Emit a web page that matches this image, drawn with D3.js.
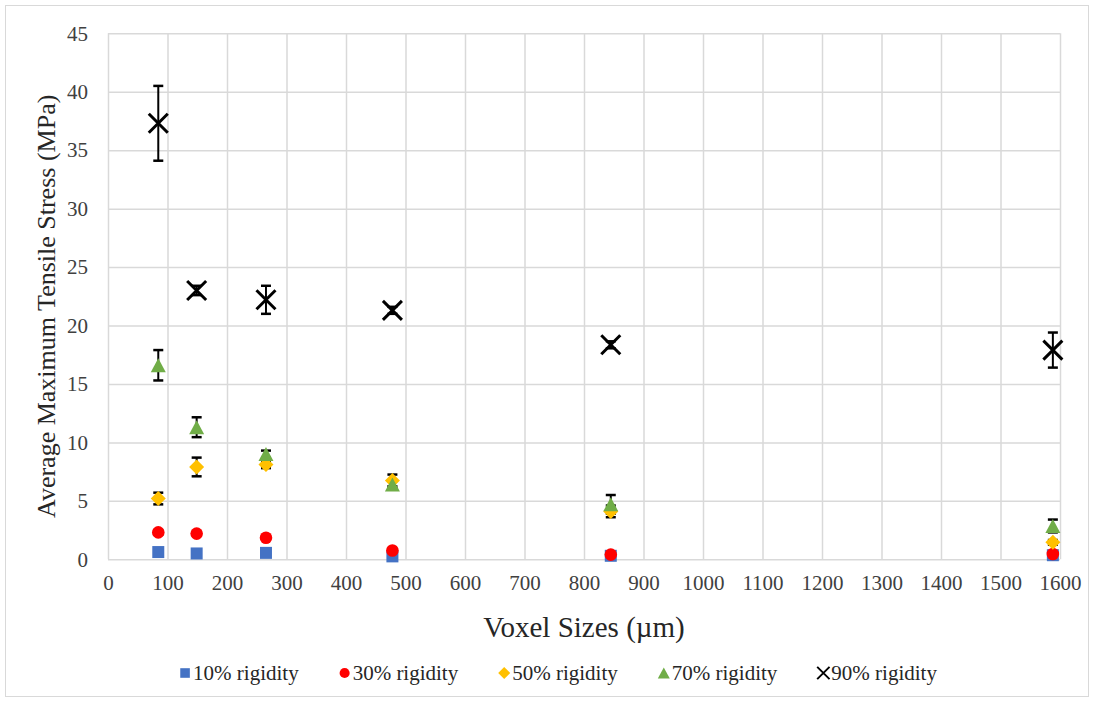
<!DOCTYPE html>
<html>
<head>
<meta charset="utf-8">
<script src="https://cdn.jsdelivr.net/npm/d3@7"></script>
<style>
  body { margin: 0; background: #fff; }
  svg { display: block; }
  svg text { font-family: "Liberation Serif", "Times New Roman", serif !important; }
</style>
</head>
<body>
<svg id="chart" width="1094" height="702"></svg>
<script>
/*** DATA ***/
const voxelSizes = [84.5, 149, 265.5, 478, 845, 1588];
const seriesNames = ['10% rigidity', '30% rigidity', '50% rigidity', '70% rigidity', '90% rigidity'];
const rigidity10 = [0.62, 0.5, 0.55, 0.25, 0.3, 0.35];
const rigidity30 = [2.3, 2.2, 1.85, 0.75, 0.4, 0.45];
const rigidity50 = [5.2, 7.9, 8.1, 6.75, 4.1, 1.45];
const rigidity70 = [16.6, 11.3, 9.0, 6.4, 4.7, 2.85];
const rigidity90 = [37.3, 23.0, 22.2, 21.3, 18.35, 17.9];
const err10 = [0.1, 0.1, 0.1, 0.05, 0.05, 0.05];
const err30 = [0.2, 0.15, 0.15, 0.1, 0.1, 0.1];
const err50 = [0.5, 0.8, 0.3, 0.5, 0.5, 0.2];
const err70 = [1.3, 0.85, 0.3, 0.3, 0.8, 0.55];
const err90 = [3.2, 0.4, 1.2, 0.3, 0.3, 1.5];
const xTicks = d3.range(0, 1601, 100);
const yTicks = d3.range(0, 46, 5);

/*** STYLE ***/
const FONT = '"Liberation Serif", "Times New Roman", serif';
const colors = ['#4472C4', '#FF0000', '#FFC000', '#70AD47', '#000000'];
const shapes = ['square', 'circle', 'diamond', 'triangle', 'cross'];

const series = seriesNames.map((name, i) => ({
  name, color: colors[i], shape: shapes[i],
  values: [rigidity10, rigidity30, rigidity50, rigidity70, rigidity90][i],
  errors: [err10, err30, err50, err70, err90][i]
}));

/*** DIMENSIONS ***/
const W = 1094, H = 702;
const plot = {left: 108, right: 1060, top: 33.3, bottom: 559.3};

const svg = d3.select('#chart');

svg.append('rect')
    .attr('x', 5.5).attr('y', 5.5)
    .attr('width', W - 11).attr('height', H - 11)
    .attr('fill', '#fff').attr('stroke', '#d9d9d9').attr('stroke-width', 1);

const x = d3.scaleLinear().domain([0, 1600]).range([plot.left, plot.right]);
const y = d3.scaleLinear().domain([0, 45]).range([plot.bottom, plot.top]);

// GRID + AXES
const gy = svg.append('g')
    .attr('transform', `translate(${plot.left},0)`)
    .call(d3.axisLeft(y).tickValues(yTicks).tickSize(-(plot.right - plot.left)).tickPadding(20).tickFormat(d3.format('d')));
const gx = svg.append('g')
    .attr('transform', `translate(0,${plot.bottom})`)
    .call(d3.axisBottom(x).tickValues(xTicks).tickSize(-(plot.bottom - plot.top)).tickPadding(12).tickFormat(d3.format('d')));

[gx, gy].forEach(g => {
  g.attr('font-family', FONT).attr('font-size', 21);
  g.select('.domain').remove();
  g.selectAll('line').attr('stroke', '#d9d9d9').attr('stroke-width', 1.5);
  g.selectAll('text').attr('fill', '#404040');
});
gx.selectAll('text').attr('dy', '0.9em');

// axis titles
svg.append('text')
    .attr('x', (plot.left + plot.right) / 2).attr('y', 637)
    .attr('text-anchor', 'middle')
    .attr('font-family', FONT).attr('font-size', 29).attr('fill', '#262626')
    .text('Voxel Sizes (µm)');

svg.append('text')
    .attr('transform', `translate(55,${(plot.top + plot.bottom) / 2 + 10}) rotate(-90)`)
    .attr('text-anchor', 'middle')
    .attr('font-family', FONT).attr('font-size', 26).attr('fill', '#262626')
    .text('Average Maximum Tensile Stress (MPa)');

/*** MARKERS ***/
function markerPath(shape) {
  const p = d3.path();
  if (shape === 'square') { p.rect(-6, -6, 12, 12); }
  else if (shape === 'circle') { p.arc(0, 0, 6.3, 0, 2 * Math.PI); }
  else if (shape === 'diamond') { p.moveTo(0, -7.5); p.lineTo(7.5, 0); p.lineTo(0, 7.5); p.lineTo(-7.5, 0); p.closePath(); }
  else if (shape === 'triangle') { p.moveTo(0, -7); p.lineTo(7.5, 7); p.lineTo(-7.5, 7); p.closePath(); }
  else { p.moveTo(-9.5, -9.5); p.lineTo(9.5, 9.5); p.moveTo(9.5, -9.5); p.lineTo(-9.5, 9.5); }
  return p.toString();
}

function drawMarker(sel, s) {
  sel.append('path')
      .attr('d', markerPath(s.shape))
      .attr('fill', s.shape === 'cross' ? 'none' : s.color)
      .attr('stroke', s.shape === 'cross' ? s.color : 'none')
      .attr('stroke-width', s.shape === 'cross' ? 3 : 0);
}

// error bars first
const errG = svg.append('g').attr('class', 'errors');
series.forEach(s => {
  s.values.forEach((v, i) => {
    const e = s.errors[i], cx = x(voxelSizes[i]);
    const g = errG.append('g').attr('stroke', '#000').attr('stroke-width', 2);
    g.append('line').attr('x1', cx).attr('x2', cx).attr('y1', y(v + e)).attr('y2', y(v - e));
    g.append('line').attr('x1', cx - 5).attr('x2', cx + 5).attr('y1', y(v + e)).attr('y2', y(v + e)).attr('stroke-width', 2.5);
    g.append('line').attr('x1', cx - 5).attr('x2', cx + 5).attr('y1', y(v - e)).attr('y2', y(v - e)).attr('stroke-width', 2.5);
  });
});

series.forEach(s => {
  svg.append('g').attr('class', 'series')
    .selectAll('g')
    .data(s.values)
    .enter().append('g')
      .attr('transform', (d, i) => `translate(${x(voxelSizes[i])},${y(d)})`)
      .each(function() { drawMarker(d3.select(this), s); });
});

/*** LEGEND ***/
const legend = svg.append('g').attr('class', 'legend');
let cursor = 0;
series.forEach(s => {
  const item = legend.append('g').attr('transform', `translate(${cursor},0)`);
  const mk = item.append('g').attr('transform', 'translate(6,0)');
  drawMarker(mk, s);
  if (s.shape === 'cross') mk.select('path').attr('transform', 'scale(0.65)');
  else mk.select('path').attr('transform', 'scale(0.8)');
  const t = item.append('text')
      .attr('x', 14).attr('dy', '0.35em')
      .attr('font-family', FONT).attr('font-size', 21).attr('fill', '#262626')
      .text(s.name);
  cursor += 14 + t.node().getComputedTextLength() + 40;
});
const legendW = cursor - 40;
legend.attr('transform', `translate(${558 - legendW / 2},673)`);
</script>
</body>
</html>
